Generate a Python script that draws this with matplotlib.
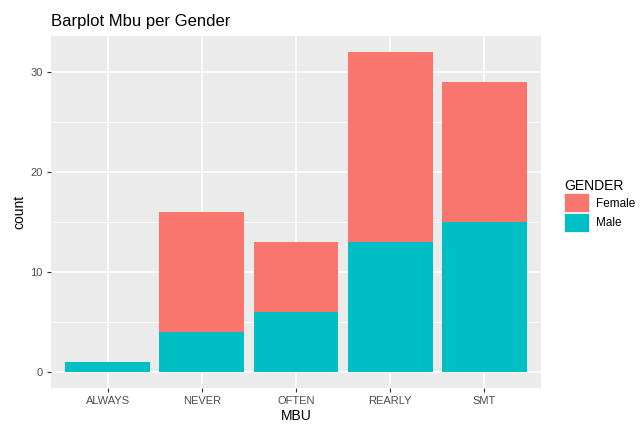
import matplotlib.pyplot as plt
import numpy as np
from matplotlib.patches import Patch

plt.rcParams['font.family'] = ['Liberation Sans', 'DejaVu Sans']

mbu = ["ALWAYS", "NEVER", "OFTEN", "REARLY", "SMT"]
male = [1, 4, 6, 13, 15]
female = [0, 12, 7, 19, 14]
genders = ["Female", "Male"]
colors = {"Female": "#F8766D", "Male": "#00BFC4"}

fig = plt.figure(figsize=(6.4, 4.3), dpi=100)
ax = fig.add_axes([0.080, 0.098, 0.765, 0.818])
ax.set_facecolor("#EBEBEB")

x = np.arange(len(mbu))
ax.bar(x, male, width=0.9, color=colors["Male"], zorder=3)
ax.bar(x, female, width=0.9, bottom=male, color=colors["Female"], zorder=3)

total = max(m + f for m, f in zip(male, female))
ax.set_ylim(-0.05 * total, total * 1.05)
ax.set_xlim(-0.6, len(mbu) - 0.4)

ax.set_yticks([0, 10, 20, 30])
ax.set_yticks([5, 15, 25], minor=True)
ax.set_xticks(x)
ax.set_xticklabels(mbu)
ax.grid(which="major", color="white", lw=1.1, zorder=1)
ax.grid(which="minor", axis="y", color="white", lw=0.55, zorder=1)
ax.tick_params(which="major", length=3, width=0.8, color="#333333",
               labelsize=8, labelcolor="#4D4D4D", pad=3)
ax.tick_params(which="minor", length=0)
for s in ax.spines.values():
    s.set_visible(False)

ax.set_xlabel("MBU", fontsize=10, labelpad=2)
ax.set_ylabel("count", fontsize=10, labelpad=3)
ax.set_title("Barplot Mbu per Gender", fontsize=12, loc="left", x=-0.0, pad=7)

handles = [Patch(facecolor=colors[g], edgecolor="white", lw=0.5) for g in genders]
leg = fig.legend(handles, genders, title="GENDER", loc="upper left",
                 bbox_to_anchor=(0.874, 0.595), frameon=False, fontsize=8.5,
                 title_fontsize=10, handlelength=2.1, handleheight=2.1,
                 handletextpad=0.6, labelspacing=0.05, borderaxespad=0)
leg._legend_box.align = "left"

fig.savefig("out.png", dpi=100)
